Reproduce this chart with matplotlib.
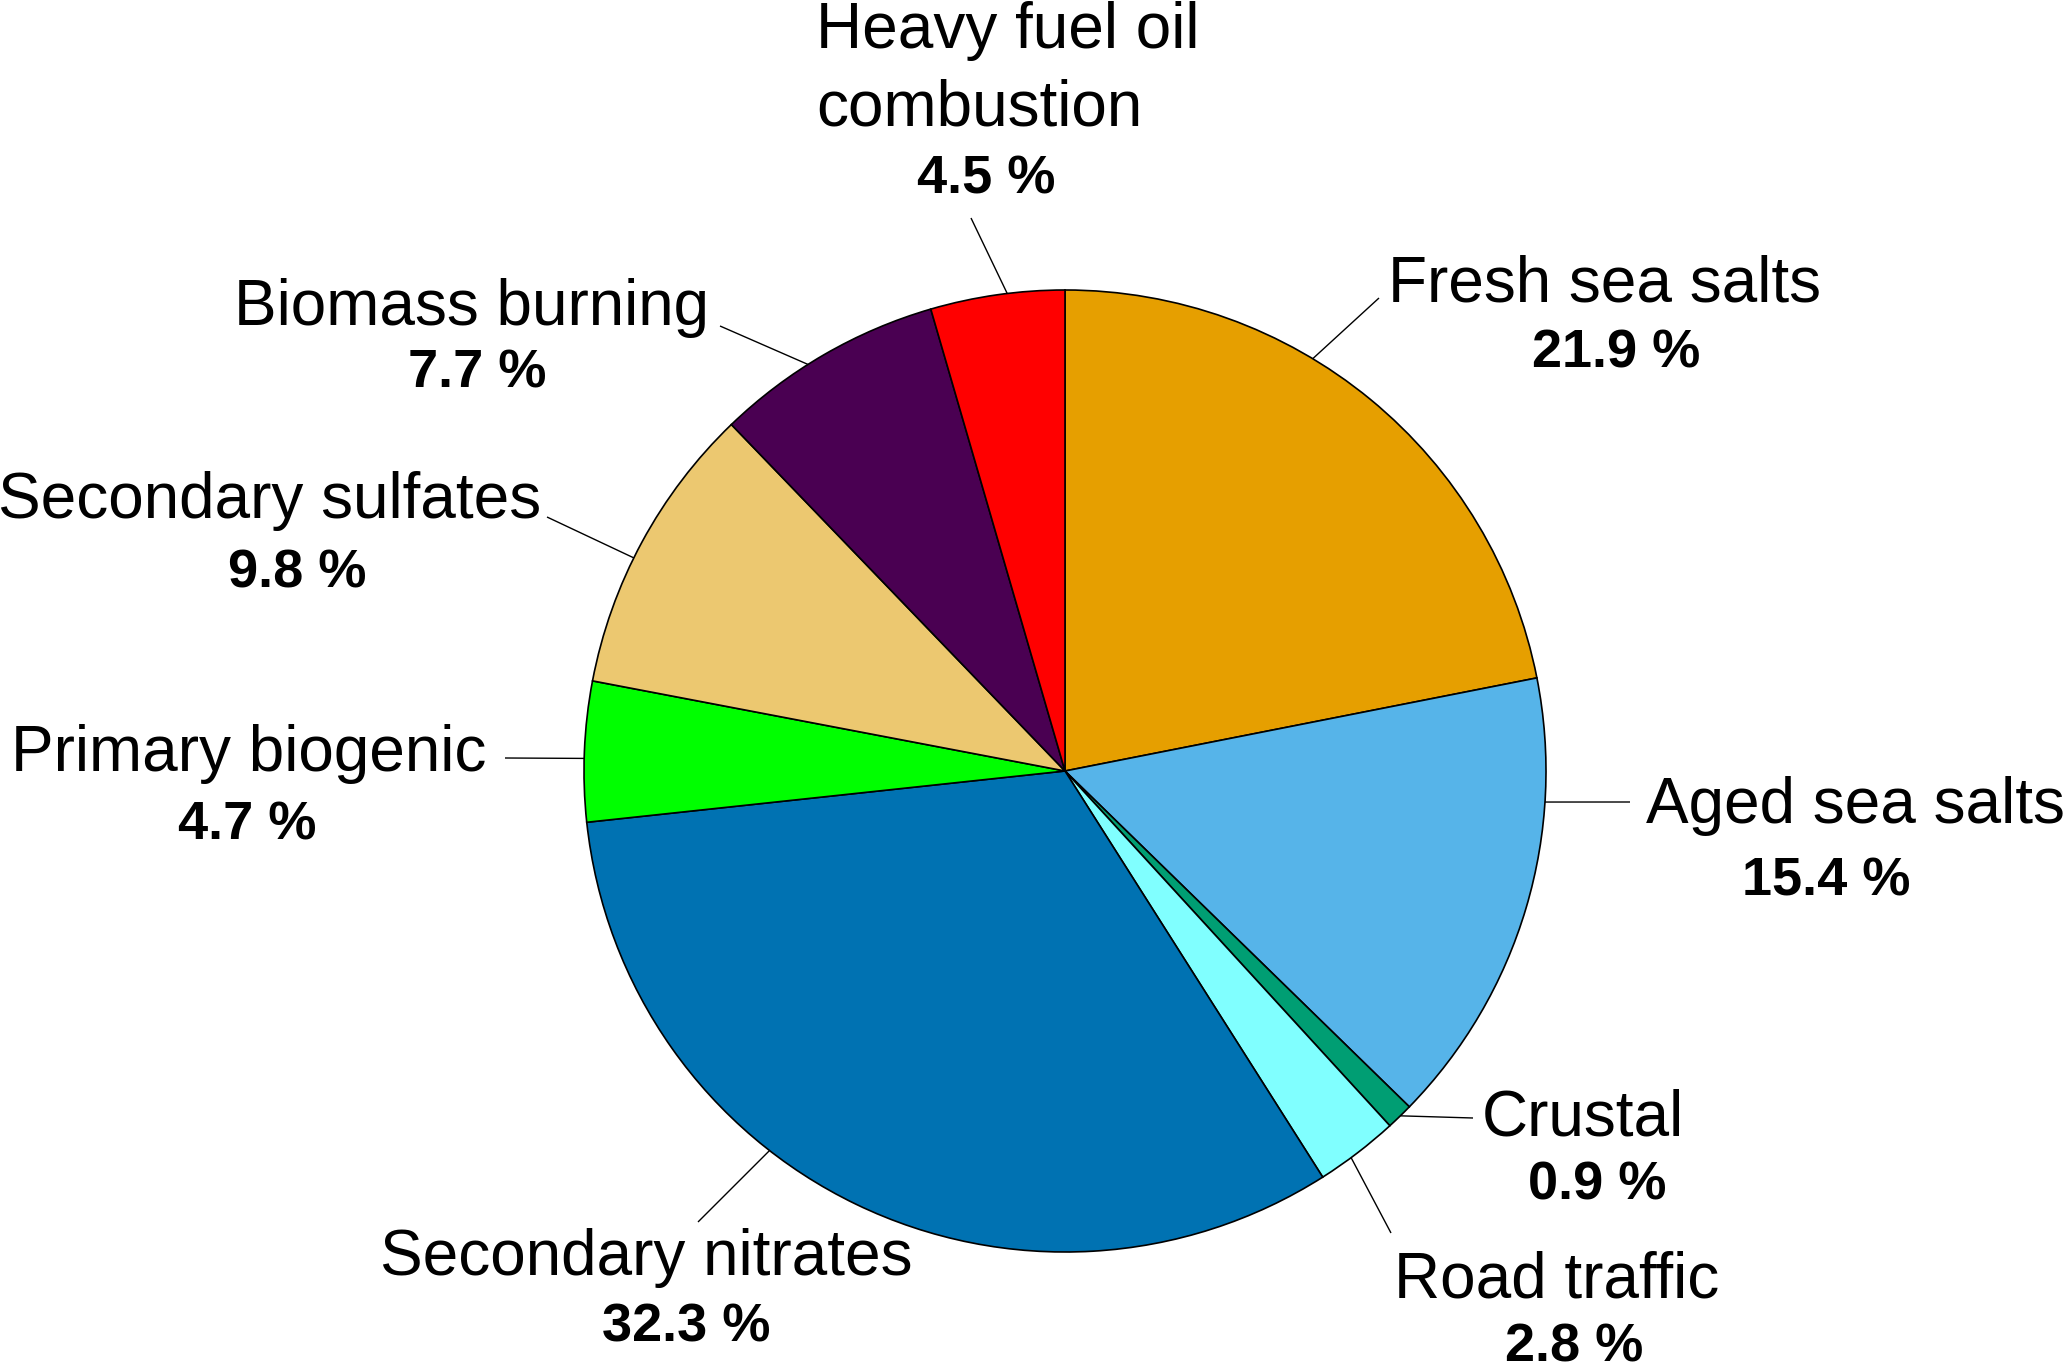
import numpy as np
import matplotlib
matplotlib.use("Agg")
import matplotlib.pyplot as plt

plt.rcParams['font.family'] = ['Liberation Sans', 'DejaVu Sans']

# data, clockwise from the top
sources = ['Fresh sea salts', 'Aged sea salts', 'Crustal', 'Road traffic',
           'Secondary nitrates', 'Primary biogenic', 'Secondary sulfates',
           'Biomass burning', 'Heavy fuel oil\ncombustion']
shares = [21.9, 15.4, 0.9, 2.8, 32.3, 4.7, 9.8, 7.7, 4.5]
colors = ['#E69F00', '#56B4E9', '#009E73', '#80FFFF', '#0072B2',
          '#00FF00', '#ECC870', '#4A0052', '#FF0000']

# layout in image pixels (origin top-left)
W, H = 2067, 1365
cx, cy, rad = 1065, 771, 481
# name anchor x, name baseline, name ha, pct x, pct baseline, leader angle, leader end
layout = [
    (1604, 301, 'center', 1616, 367, 59.0, (1379, 298)),
    (1855, 823, 'center', 1826, 895, -3.7, (1630, 802)),
    (1583, 1136, 'center', 1597, 1200, -45.8, (1473, 1118)),
    (1557, 1298, 'center', 1574, 1362, -53.5, (1391, 1233)),
    (646, 1275, 'center', 686, 1342, -127.9, (698, 1222)),
    (249, 771, 'center', 247, 839, 178.5, (505, 758)),
    (270, 518, 'center', 297, 587, 153.7, (547, 517)),
    (472, 325, 'center', 477, 388, 122.3, (720, 326)),
    (816, 48, 'left', 986, 193, 96.9, (971, 218)),
]
line_step = 78

fig = plt.figure(figsize=(W / 100, H / 100), dpi=100)
ax = fig.add_axes([0, 0, 1, 1])

ax.pie(shares, colors=colors, startangle=90, counterclock=False,
       center=(cx, H - cy), radius=rad,
       wedgeprops=dict(edgecolor='black', linewidth=1.2))

for name, val, lay in zip(sources, shares, layout):
    nx, ny, ha, px, py, ang, end = lay
    for i, line in enumerate(name.split('\n')):
        ax.text(nx, H - (ny + i * line_step), line, ha=ha, va='baseline',
                fontsize=46, color='black')
    ax.text(px, H - py, '%.1f %%' % val, ha='center', va='baseline',
            fontsize=39, fontweight='bold', color='black')
    a = np.deg2rad(ang)
    x0 = cx + rad * np.cos(a)
    y0 = (H - cy) + rad * np.sin(a)
    ax.plot([x0, end[0]], [y0, H - end[1]], color='black', linewidth=1.0,
            solid_capstyle='butt')

ax.set_xlim(0, W)
ax.set_ylim(0, H)
ax.set_aspect('equal')
ax.axis('off')

fig.savefig('out.png', dpi=100, facecolor='white')
